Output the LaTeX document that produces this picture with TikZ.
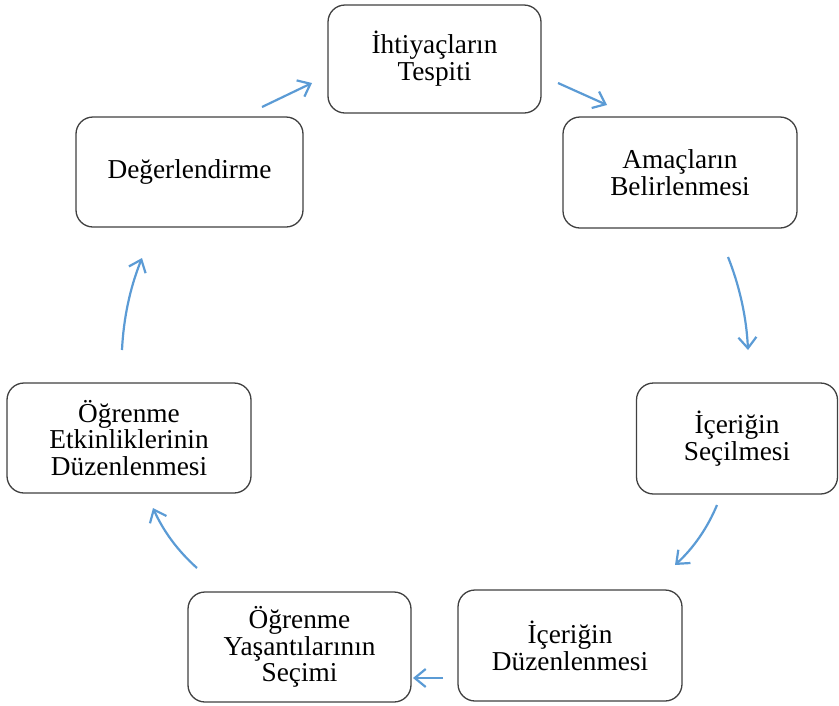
\documentclass[tikz,border=0pt]{standalone}
\usepackage{fontspec}
\setmainfont{Liberation Serif}
\usetikzlibrary{arrows.meta}
\definecolor{arrowblue}{HTML}{5B9BD5}
\definecolor{boxgray}{HTML}{404040}
\tikzset{
  stepbox/.style={draw=boxgray, line width=1.3pt, rounded corners=17pt, fill=white,
    align=center, inner sep=0pt, font=\fontsize{27.3}{26.8}\selectfont},
  flowarrow/.style={draw=arrowblue, line width=2.2pt,
    -{Straight Barb[length=11pt,width=18pt]}}
}
\begin{document}
\begin{tikzpicture}[x=1pt,y=-1pt]
\useasboundingbox (0,0) rectangle (839,705);
\node[stepbox, minimum width=213pt, minimum height=108pt] (b1) at (434.5,59) {İhtiyaçların\\Tespiti};
\node[stepbox, minimum width=234pt, minimum height=111pt] (b2) at (680,172.5) {Amaçların\\Belirlenmesi};
\node[stepbox, minimum width=201pt, minimum height=111pt] (b3) at (737,438.5) {İçeriğin\\Seçilmesi};
\node[stepbox, minimum width=224pt, minimum height=111pt] (b4) at (570,645.5) {İçeriğin\\Düzenlenmesi};
\node[stepbox, minimum width=223pt, minimum height=110pt] (b5) at (299.5,647) {Öğrenme\\Yaşantılarının\\Seçimi};
\node[stepbox, minimum width=244pt, minimum height=110pt] (b6) at (129,438) {Öğrenme\\Etkinliklerinin\\Düzenlenmesi};
\node[stepbox, minimum width=227pt, minimum height=110pt] (b7) at (189.5,172) {Değerlendirme};

\coordinate (a1s) at (262,107);
\coordinate (a1e) at (312,83);
\coordinate (a2s) at (558,83);
\coordinate (a2e) at (607,105);
\coordinate (a3s) at (728,257);
\coordinate (a3c1) at (739.9,286.9);
\coordinate (a3c2) at (746.5,317.9);
\coordinate (a3e) at (748,350);
\coordinate (a4s) at (717,505);
\coordinate (a4c1) at (707.4,528.1);
\coordinate (a4c2) at (693.4,548.1);
\coordinate (a4e) at (675,565);
\coordinate (a5s) at (443,678);
\coordinate (a5e) at (413,678);
\coordinate (a6s) at (197,568);
\coordinate (a6c1) at (178,551.1);
\coordinate (a6c2) at (163.3,531.1);
\coordinate (a6e) at (153,508);
\coordinate (a7s) at (122,350);
\coordinate (a7c1) at (123.5,318.2);
\coordinate (a7c2) at (130.1,287.5);
\coordinate (a7e) at (142,258);

\draw[flowarrow] (a1s) -- (a1e);
\draw[flowarrow] (a2s) -- (a2e);
\draw[flowarrow] (a3s) .. controls (a3c1) and (a3c2) .. (a3e);
\draw[flowarrow] (a4s) .. controls (a4c1) and (a4c2) .. (a4e);
\draw[flowarrow] (a5s) -- (a5e);
\draw[flowarrow] (a6s) .. controls (a6c1) and (a6c2) .. (a6e);
\draw[flowarrow] (a7s) .. controls (a7c1) and (a7c2) .. (a7e);
\end{tikzpicture}
\end{document}
